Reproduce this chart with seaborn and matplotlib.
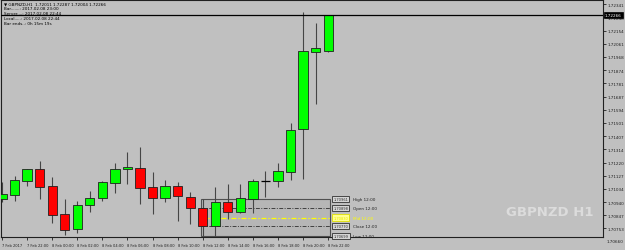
import numpy as np
import pandas as pd
import matplotlib
matplotlib.use("Agg")
import matplotlib.pyplot as plt
import seaborn as sns
from matplotlib.patches import Rectangle

# ---------------- data (GBPNZD, H1) ----------------
opens  = [1.70961, 1.70990, 1.71089, 1.71174, 1.71054, 1.70855, 1.70749, 1.70919, 1.70969,
          1.71075, 1.71174, 1.71181, 1.71047, 1.70969, 1.71054, 1.70976, 1.70898, 1.70770,
          1.70940, 1.70869, 1.70961, 1.71089, 1.71089, 1.71153, 1.71458, 1.72004, 1.72011]
highs  = [1.71082, 1.71125, 1.71174, 1.71231, 1.71117, 1.70961, 1.70947, 1.71018, 1.71089,
          1.71217, 1.71295, 1.71330, 1.71153, 1.71096, 1.71082, 1.71011, 1.70961, 1.71047,
          1.71068, 1.71068, 1.71103, 1.71160, 1.71217, 1.71500, 1.72287, 1.72209, 1.72266]
lows   = [1.70940, 1.70947, 1.71054, 1.70961, 1.70791, 1.70706, 1.70720, 1.70869, 1.70947,
          1.71004, 1.71068, 1.70926, 1.70855, 1.70940, 1.70805, 1.70784, 1.70699, 1.70699,
          1.70820, 1.70862, 1.70862, 1.70976, 1.71047, 1.71096, 1.71103, 1.71635, 1.72004]
closes = [1.70997, 1.71096, 1.71174, 1.71047, 1.70848, 1.70742, 1.70919, 1.70969, 1.71082,
          1.71174, 1.71188, 1.71039, 1.70969, 1.71054, 1.70983, 1.70898, 1.70770, 1.70940,
          1.70869, 1.70969, 1.71089, 1.71089, 1.71160, 1.71451, 1.72011, 1.72032, 1.72266]

x_tick_bars   = [0, 2, 4, 6, 8, 10, 12, 14, 16, 18, 20, 22, 24, 26]
x_tick_labels = ["7 Feb 2017", "7 Feb 22:00", "8 Feb 00:00", "8 Feb 02:00", "8 Feb 04:00",
                 "8 Feb 06:00", "8 Feb 08:00", "8 Feb 10:00", "8 Feb 12:00", "8 Feb 14:00",
                 "8 Feb 16:00", "8 Feb 18:00", "8 Feb 20:00", "8 Feb 22:00"]
y_ticks = [1.70753, 1.70847, 1.70940, 1.71034, 1.71127, 1.71220, 1.71314, 1.71407, 1.71501,
           1.71594, 1.71687, 1.71781, 1.71874, 1.71968, 1.72061, 1.72154, 1.72248, 1.72341]
y_bottom_label = "1.70660"

ref_bar = 16
ref_names = ["High 12:00", "Open 12:00", "Mid 12:00", "Close 12:00", "Low 12:00"]

header_lines = ["\u25bc GBPNZD,H1  1.72011 1.72287 1.72004 1.72266",
                "Bar.......: 2017.02.08 23:00",
                "Server....: 2017.02.08 22:44",
                "Local.....: 2017.02.08 22:44",
                "Bar ends..: 0h 15m 19s"]

df = pd.DataFrame({"bar": np.arange(len(opens)), "open": opens, "high": highs,
                   "low": lows, "close": closes})

# ---------------- style ----------------
BG = "#c0c0c0"
sns.set_theme(style="ticks", rc={"axes.facecolor": BG, "figure.facecolor": BG,
                                 "axes.edgecolor": "#202020", "axes.linewidth": 0.8})
plt.rcParams["font.family"] = ["DejaVu Sans"]
NARROW = ["Liberation Sans Narrow", "DejaVu Sans"]

fig = plt.figure(figsize=(6.25, 2.51), dpi=100)
ax = fig.add_axes([1 / 625, 1 - 238 / 251, 602 / 625, 237 / 251])
ax.set_facecolor(BG)

# ---------------- indicator box (12:00 candle) ----------------
r = df.iloc[ref_bar]
hi, lo, op, cl = r["high"], r["low"], r["open"], r["close"]
mid = (hi + lo) / 2
x0, x1 = ref_bar - 0.1, 26.15
ax.add_patch(Rectangle((x0, lo), x1 - x0, hi - lo, facecolor="#b6b6b6",
                       edgecolor="#505050", lw=0.8, zorder=1))
ax.hlines([op, cl], x0, x1, colors="#404040", lw=0.7, linestyles=(0, (4, 1.5, 1, 1.5)), zorder=1.5)
ax.hlines([mid], x0, x1, colors="#ffff00", lw=0.9, linestyles=(0, (4, 1.5, 1, 1.5)), zorder=1.5)

levels = [hi, op, mid, cl, lo]
for name, lvl in zip(ref_names, levels):
    is_mid = name.startswith("Mid")
    ax.text(26.4, lvl, f"{lvl:.5f}", fontsize=2.6, va="center", ha="left",
            color="#e8e800" if is_mid else "#303030", zorder=6,
            bbox=dict(boxstyle="square,pad=0.35", fc="#ffff90" if is_mid else "#d4d4d4",
                      ec="#e0e000" if is_mid else "#303030", lw=0.6))
    ax.text(27.95, lvl, name, fontsize=3.0, va="center", ha="left",
            color="#ffff00" if is_mid else "#202020", zorder=6)

# ---------------- candles ----------------
ax.vlines(df["bar"], df["low"], df["high"], colors="#454545", lw=0.8, zorder=2)
bottoms = np.minimum(df["open"], df["close"])
heights = (df["close"] - df["open"]).abs()
colors = np.where(df["close"] > df["open"], "#00ff00",
                  np.where(df["close"] < df["open"], "#ff0000", "#000000"))
body = heights > 0
ax.bar(df["bar"][body], heights[body], bottom=bottoms[body], width=0.74,
       color=colors[body], edgecolor="#202020", lw=0.6, zorder=3)
doji = ~body
ax.hlines(df["close"][doji], df["bar"][doji] - 0.37, df["bar"][doji] + 0.37,
          colors="black", lw=0.9, zorder=3)

# current price line + label
last = closes[-1]
ax.axhline(last, color="black", lw=0.9, zorder=4)
ax.text(1.003, last, f"{last:.5f}", transform=ax.get_yaxis_transform(), fontsize=3.0,
        va="center", ha="left", color="white", zorder=7, clip_on=False,
        bbox=dict(boxstyle="square,pad=0.3", fc="black", ec="black", lw=0.5))

# ---------------- axes ----------------
ax.set_xlim(-0.08, 47.9)
ax.set_ylim(1.70692, 1.72372)
ax.yaxis.tick_right()
ax.set_yticks(y_ticks)
ax.set_yticklabels([f"{v:.5f}" for v in y_ticks])
ax.tick_params(axis="y", labelsize=3.0, length=2, width=0.6, pad=1.5, colors="#202020")
ax.set_xticks(x_tick_bars)
ax.set_xticklabels(x_tick_labels, ha="left", family=NARROW)
ax.tick_params(axis="x", labelsize=2.6, length=2, width=0.6, pad=2.5, colors="#202020")
for s in ax.spines.values():
    s.set_color("#202020")
    s.set_linewidth(0.8)
fig.text(607 / 625, 1 - 242.5 / 251, y_bottom_label, fontsize=3.0, va="center",
         ha="left", color="#202020")

# header and watermark
for i, line in enumerate(header_lines):
    fig.text(4 / 625, 1 - (4 + i * 5) / 251, line, fontsize=3.0, va="center",
             ha="left", color="black")
fig.text(550 / 625, 1 - 213 / 251, "GBPNZD H1", fontsize=9.5, fontweight="bold",
         family=NARROW, color="#dcdcdc", ha="center", va="center")

fig.savefig("out.png", dpi=100, facecolor=BG)
